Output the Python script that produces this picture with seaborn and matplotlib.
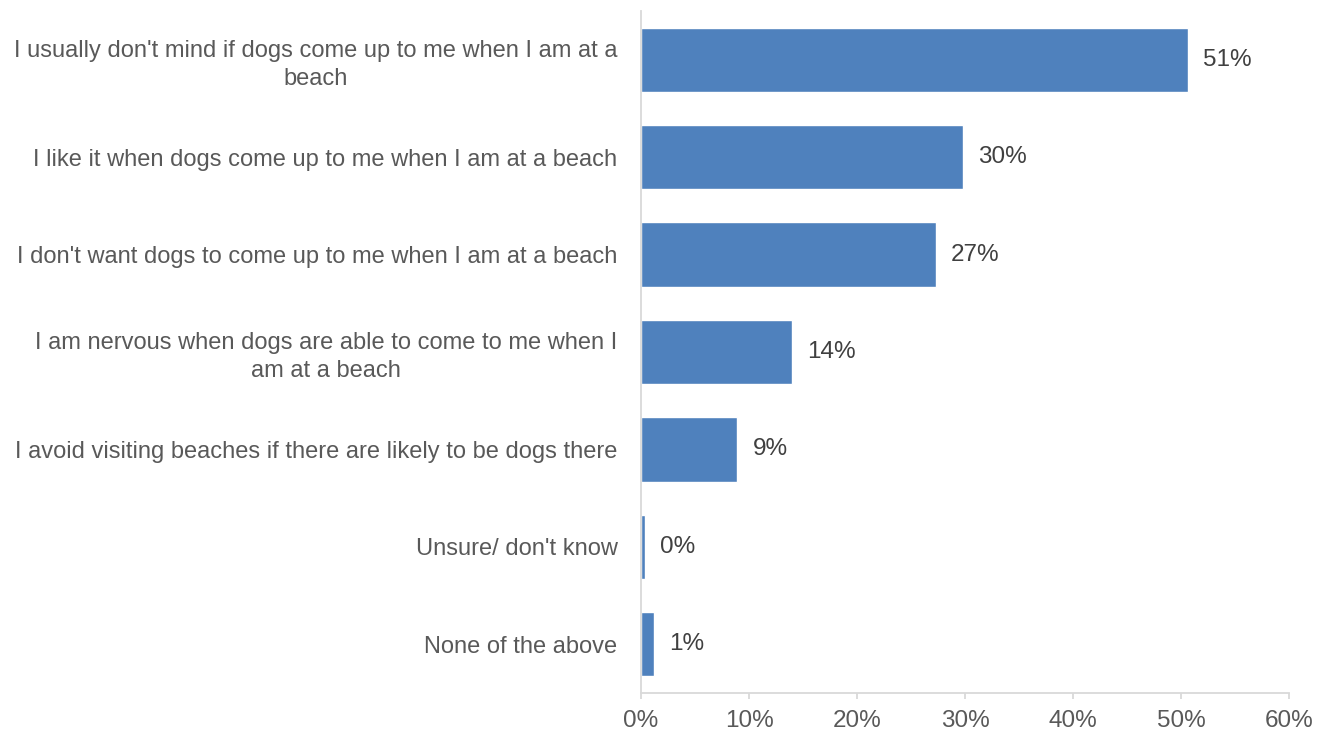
import matplotlib
matplotlib.use("Agg")
import matplotlib.pyplot as plt
import seaborn as sns
import pandas as pd
from matplotlib.ticker import PercentFormatter

# Data
categories = [
    "I usually don't mind if dogs come up to me when I am at a\nbeach",
    "I like it when dogs come up to me when I am at a beach",
    "I don't want dogs to come up to me when I am at a beach",
    "I am nervous when dogs are able to come to me when I\nam at a beach",
    "I avoid visiting beaches if there are likely to be dogs there",
    "Unsure/ don't know",
    "None of the above",
]
values = [50.6, 29.8, 27.3, 14.0, 8.9, 0.35, 1.2]
value_labels = ["51%", "30%", "27%", "14%", "9%", "0%", "1%"]
x_ticks = [0, 10, 20, 30, 40, 50, 60]

df = pd.DataFrame({"Category": categories, "Share": values})

sns.set_theme(style="white")
plt.rcParams["font.family"] = ["Liberation Sans", "DejaVu Sans"]

BAR_COLOR = "#4F81BD"
LABEL_COLOR = "#595959"
VALUE_COLOR = "#404040"
AXIS_COLOR = "#D9D9D9"
FS_CAT = 17
FS_NUM = 17.5

fig = plt.figure(figsize=(13.28, 7.33), dpi=100)
ax = fig.add_axes([0.4827, 0.0546, 0.4880, 0.9304])

sns.barplot(data=df, y="Category", x="Share", orient="h",
            color=BAR_COLOR, saturation=1, width=0.66, ax=ax)

for patch, lbl in zip(ax.patches, value_labels):
    ax.annotate(lbl, (patch.get_width(), patch.get_y() + patch.get_height() / 2),
                xytext=(11, 0), textcoords="offset points",
                ha="left", va="center", fontsize=FS_NUM, color=VALUE_COLOR)

ax.set_xlim(0, 60)
ax.set_ylim(6.5, -0.5)
ax.set_xticks(x_ticks)
ax.xaxis.set_major_formatter(PercentFormatter(decimals=0))
ax.set_xlabel("")
ax.set_ylabel("")

for side in ["top", "right"]:
    ax.spines[side].set_visible(False)
for side in ["left", "bottom"]:
    ax.spines[side].set_color(AXIS_COLOR)
    ax.spines[side].set_linewidth(1.3)

ax.tick_params(axis="x", bottom=True, length=4.5, width=1.3, color=AXIS_COLOR,
               labelsize=FS_NUM, labelcolor=LABEL_COLOR, pad=8)
ax.tick_params(axis="y", left=False, labelsize=FS_CAT, labelcolor=LABEL_COLOR, pad=11)
for t in ax.get_yticklabels():
    t.set_multialignment("center")
    t.set_linespacing(1.35)

fig.savefig("out.png", dpi=100)
